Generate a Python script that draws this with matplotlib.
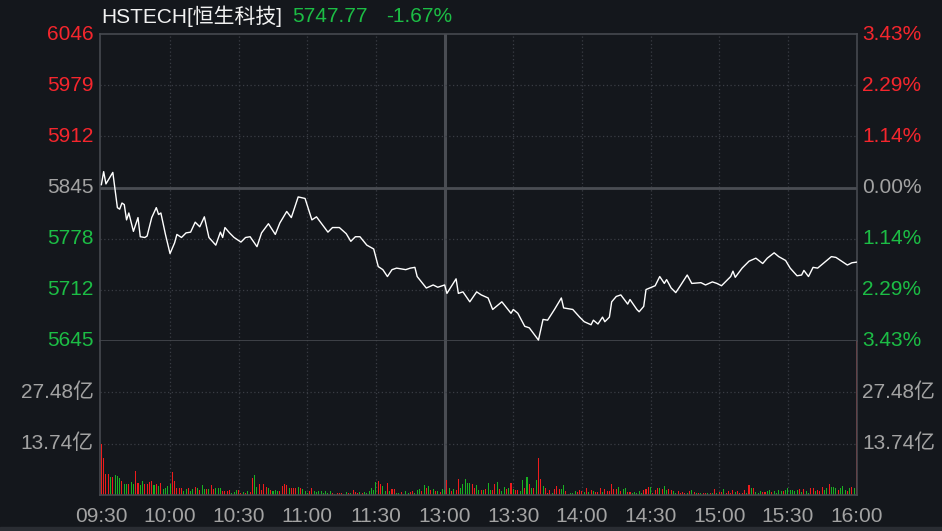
import matplotlib
matplotlib.use("Agg")
import matplotlib.pyplot as plt
import matplotlib.transforms as mtransforms
from matplotlib.patches import Rectangle

plt.rcParams["font.family"] = ["Liberation Sans", "Noto Sans CJK SC"]

# ---- header ----
title_name = "HSTECH[恒生科技]"
last_price = "5747.77"
change_pct = "-1.67%"

# ---- axes ----
prev_close = 5845.3
pct_span = 0.0343
price_labels = ["6046", "5979", "5912", "5845", "5778", "5712", "5645"]
pct_labels = ["3.43%", "2.29%", "1.14%", "0.00%", "1.14%", "2.29%", "3.43%"]
vol_levels = [27.48, 13.74]
vol_labels = ["27.48亿", "13.74亿"]
vol_top = 41.22
time_ticks = [0, 30, 60, 90, 120, 150, 180, 210, 240, 270, 300, 330]
time_labels = ["09:30", "10:00", "10:30", "11:00", "11:30", "13:00",
               "13:30", "14:00", "14:30", "15:00", "15:30", "16:00"]

# ---- intraday price (minute index from 09:30, lunch removed) ----
minutes = [0, 1, 2, 5, 6, 7, 8, 9, 10, 11, 12, 14, 16, 17, 19, 20, 22, 24, 25, 26,
           28, 30, 32, 33, 35, 37, 39, 41, 43, 45, 47, 50, 52, 53, 54, 56, 58, 61, 63, 65,
           68, 70, 73, 76, 78, 81, 83, 86, 89, 92, 94, 99, 101, 104, 107, 109, 111, 113, 116, 119,
           121, 123, 125, 127, 129, 133, 135, 137, 138, 142, 145, 147, 150, 151, 155, 156, 158, 161, 164, 166,
           169, 171, 175, 179, 180, 182, 185, 187, 191, 193, 195, 198, 201, 202, 206, 209, 211, 214, 215, 217,
           219, 220, 222, 223, 225, 227, 230, 231, 234, 235, 237, 238, 242, 244, 246, 247, 249, 251, 253, 256,
           258, 262, 264, 267, 269, 271, 272, 275, 276, 277, 280, 283, 286, 289, 291, 294, 296, 299, 301, 304,
           306, 307, 309, 311, 313, 317, 319, 321, 323, 326, 328, 330]
prices = [5849, 5866, 5850, 5865, 5842, 5819, 5817, 5825, 5823, 5803, 5812, 5788, 5806, 5781, 5780, 5782, 5806, 5819, 5810, 5812,
          5784, 5759, 5773, 5784, 5780, 5786, 5787, 5800, 5794, 5807, 5780, 5770, 5787, 5780, 5793, 5786, 5780, 5774, 5780, 5781,
          5768, 5786, 5798, 5784, 5799, 5814, 5806, 5833, 5831, 5803, 5807, 5787, 5793, 5793, 5785, 5775, 5781, 5781, 5770, 5765,
          5742, 5738, 5729, 5738, 5740, 5738, 5740, 5741, 5729, 5714, 5718, 5715, 5718, 5707, 5726, 5707, 5709, 5696, 5709, 5705,
          5701, 5686, 5696, 5681, 5686, 5681, 5664, 5662, 5646, 5673, 5672, 5686, 5701, 5688, 5686, 5676, 5670, 5666, 5672, 5667,
          5676, 5670, 5676, 5696, 5703, 5705, 5693, 5699, 5686, 5683, 5690, 5712, 5717, 5729, 5720, 5725, 5714, 5708, 5717, 5731,
          5720, 5721, 5718, 5722, 5720, 5717, 5720, 5729, 5736, 5728, 5740, 5749, 5753, 5746, 5753, 5760, 5755, 5750, 5740, 5730,
          5731, 5737, 5729, 5741, 5740, 5750, 5755, 5754, 5750, 5744, 5747, 5747.77]

# ---- per-minute turnover (亿), one value per minute 0..330 ----
volumes = [
    13.56, 9.81, 5.53, 5.53, 4.82, 4.82, 5.35, 5.00, 4.46, 3.75,
    3.03, 2.85, 2.85, 3.48, 3.03, 6.42, 3.30, 2.68, 3.75, 2.85,
    2.85, 3.48, 3.75, 2.68, 3.03, 2.41, 3.30, 1.52, 1.96, 2.41,
    2.85, 6.15, 3.75, 1.96, 1.96, 1.96, 1.07, 1.52, 1.96, 1.07,
    1.52, 2.14, 1.96, 1.34, 2.68, 1.52, 1.52, 1.52, 2.68, 1.52,
    1.96, 1.96, 1.96, 1.07, 1.07, 1.07, 1.34, 0.62, 0.89, 1.25,
    1.34, 0.62, 0.89, 0.62, 1.07, 0.89, 4.46, 5.26, 2.14, 2.85,
    1.25, 3.03, 2.14, 1.96, 1.25, 1.07, 1.25, 1.07, 1.07, 2.41,
    3.03, 2.68, 1.96, 1.96, 1.78, 1.96, 2.14, 1.96, 1.52, 1.07,
    0.62, 1.07, 1.96, 1.07, 0.89, 1.07, 1.07, 0.62, 1.07, 0.62,
    1.07, 0.62, 0.36, 0.62, 0.62, 0.62, 0.36, 0.89, 0.62, 0.62,
    1.25, 0.89, 0.62, 0.89, 0.62, 0.89, 0.62, 1.07, 1.78, 1.25,
    3.57, 3.75, 2.85, 2.41, 1.07, 3.30, 1.07, 1.52, 1.52, 0.62,
    0.62, 0.89, 0.36, 1.07, 0.62, 0.89, 1.07, 0.62, 1.25, 1.52,
    1.07, 2.68, 1.96, 2.41, 1.25, 1.52, 1.07, 1.07, 0.89, 1.52,
    1.25, 3.92, 1.96, 1.07, 1.52, 1.25, 4.19, 1.96, 2.85, 4.19,
    3.30, 3.30, 2.85, 1.96, 2.68, 1.25, 1.25, 1.25, 1.52, 3.30,
    1.25, 1.25, 3.03, 3.57, 1.52, 1.07, 2.14, 1.52, 1.96, 3.30,
    1.52, 1.25, 1.25, 1.07, 3.92, 1.96, 4.82, 2.85, 1.96, 1.78,
    4.01, 9.99, 4.19, 2.41, 1.96, 0.62, 1.25, 0.62, 1.52, 2.41,
    1.52, 1.52, 2.59, 1.07, 0.18, 0.62, 0.62, 1.07, 0.89, 1.25,
    1.07, 0.89, 1.96, 0.89, 1.25, 1.07, 0.89, 0.89, 1.96, 0.89,
    1.52, 1.07, 1.07, 2.85, 1.52, 1.52, 2.14, 1.07, 1.52, 1.96,
    0.89, 0.89, 0.62, 0.89, 0.62, 1.07, 0.62, 1.25, 1.52, 2.14,
    2.14, 0.62, 1.25, 1.96, 1.96, 1.52, 2.41, 1.25, 1.52, 1.25,
    1.07, 0.62, 1.07, 0.62, 0.89, 0.62, 0.62, 1.07, 1.25, 0.89,
    0.62, 0.62, 0.62, 0.62, 0.62, 0.62, 0.62, 0.62, 1.52, 0.62,
    0.89, 0.89, 1.52, 0.62, 1.07, 0.62, 1.25, 0.89, 1.07, 0.62,
    0.62, 1.25, 0.62, 2.68, 1.78, 1.96, 0.89, 0.62, 1.07, 0.89,
    0.89, 1.07, 1.25, 0.89, 1.07, 0.62, 1.25, 1.07, 1.07, 1.25,
    1.96, 1.25, 1.25, 1.07, 1.25, 1.52, 0.89, 1.52, 1.07, 0.62,
    1.96, 1.78, 1.07, 1.25, 1.07, 2.14, 1.25, 1.96, 2.85, 2.14,
    2.14, 1.96, 1.25, 1.96, 2.41, 1.25, 1.07, 1.96, 2.14, 1.96,
    60.0,
]
# r = up minute, g = down minute
vol_dirs = ("rrrrgrgggr" "ggrggrrggr" "rrrgrgrggg" "grrrrrggrg" "grgrggrgrr"
            "gggrrrrggg" "rrgrgrrggr" "rrrgrgggrr" "rrgrrrgrgg" "grrggggggg"
            "grgrrrggrg" "rrrgrggggg" "grrggrgrrg" "grgggrrggg" "rgrgrgrgrg"
            "grgrgrrggg" "ggrrggrgrg" "grrgrggrgr" "grrggrgrgr" "grrgrrrgrr"
            "rggrggggr" "r" "rgrgrgrrrg" "rrrrrrgrgg" "rrgggggrrr" "grrrgrggrr"
            "ggrrrrgrgr" "grgrrgrgrg" "rrgrrrrgrr" "rrgrgrgggr" "rggrggggrg"
            "gggggrgrg" "g" "rrgrrrggrg" "ggrgggrgrg" "r")

BG = "#14171c"
GRID = "#3a3d44"
FRAME = "#46494f"
RED = "#f5262d"
GREEN = "#1cbd45"
GRAY = "#a3a3a3"
BAR_RED = "#ee1c1c"
BAR_GREEN = "#19b022"
FS = 15

span = prev_close * pct_span
levels = [prev_close + span * k / 3 for k in (3, 2, 1, 0, -1, -2, -3)]
label_colors = [RED, RED, RED, GRAY, GREEN, GREEN, GREEN]

W, H = 942, 531
fig = plt.figure(figsize=(W / 100, H / 100), dpi=100, facecolor=BG)
ax = fig.add_axes([100 / W, 1 - 341 / H, 757 / W, 307 / H], facecolor=BG)
axv = fig.add_axes([100 / W, 1 - 495 / H, 757 / W, 154 / H], facecolor=BG)

for a in (ax, axv):
    a.set_xlim(-0.6, 330.2)
    a.set_xticks([])
    a.set_yticks([])
    for s in a.spines.values():
        s.set_color(FRAME)
        s.set_linewidth(1.2)
    for t in time_ticks[1:-1]:
        if t == 150:
            a.axvline(t, color="#4a4d53", lw=2.2, zorder=1)
        else:
            a.axvline(t, color=GRID, lw=0.9, ls=(0, (1, 2)), zorder=1)

ax.set_ylim(levels[-1], levels[0])
for lv in levels[1:-1]:
    if lv == prev_close:
        ax.axhline(lv, color="#4a4d53", lw=2, zorder=1)
    else:
        ax.axhline(lv, color=GRID, lw=0.9, ls=(0, (1, 2)), zorder=1)

ax.plot(minutes, prices, color="white", lw=1.0, zorder=3)

tr_l = mtransforms.blended_transform_factory(ax.transAxes, ax.transData)
for lv, lab, pct, c in zip(levels, price_labels, pct_labels, label_colors):
    ax.text(-6 / 757, lv, lab, transform=tr_l, ha="right", va="center",
            color=c, fontsize=FS, clip_on=False)
    ax.text(1 + 5 / 757, lv, pct, transform=tr_l, ha="left", va="center",
            color=c, fontsize=FS, clip_on=False)

# volume panel
axv.set_ylim(0, vol_top)
axv.spines["top"].set_visible(False)
for lv in vol_levels:
    axv.axhline(lv, color=GRID, lw=0.9, ls=(0, (1, 2)), zorder=1)
bar_colors = [BAR_RED if d == "r" else BAR_GREEN for d in vol_dirs]
axv.bar(range(len(volumes)), volumes, width=0.45, color=bar_colors,
        linewidth=0, antialiased=False, zorder=2)

tr_v = mtransforms.blended_transform_factory(axv.transAxes, axv.transData)
for lv, lab in zip(vol_levels, vol_labels):
    axv.text(-6 / 757, lv, lab, transform=tr_v, ha="right", va="center",
             color=GRAY, fontsize=FS, clip_on=False)
    axv.text(1 + 5 / 757, lv, lab, transform=tr_v, ha="left", va="center",
             color=GRAY, fontsize=FS, clip_on=False)

tr_t = mtransforms.blended_transform_factory(axv.transData, axv.transAxes)
for t, lab in zip(time_ticks, time_labels):
    axv.text(t, -21 / 154, lab, transform=tr_t, ha="center", va="center",
             color=GRAY, fontsize=FS, clip_on=False)

# header
fig.text(101 / W, 1 - 16 / H, title_name, color="#f2f2f2", fontsize=FS, va="center")
fig.text(292 / W, 1 - 16 / H, last_price, color=GREEN, fontsize=FS, va="center")
fig.text(386 / W, 1 - 16 / H, change_pct, color=GREEN, fontsize=FS, va="center")

fig.patches.append(Rectangle((0, 0), 1, 4 / H, transform=fig.transFigure,
                             color="#2a2d33", zorder=0))

fig.savefig("out.png", dpi=100, facecolor=BG)
